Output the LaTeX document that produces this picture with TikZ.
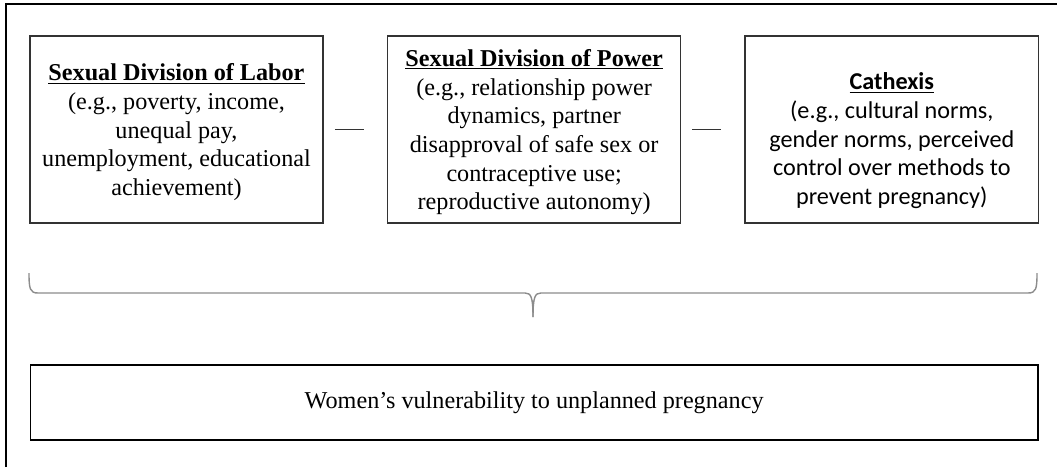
\documentclass[tikz,border=0pt]{standalone}
\usepackage{fontspec}
\setmainfont{Liberation Serif}
\newfontfamily\calibrifont{Carlito}
\usetikzlibrary{positioning}

\begin{document}
\begin{tikzpicture}[
    x=0.025cm, y=-0.025cm,
    node distance=1.575cm,
    every node/.style={font=\fontsize{17.2}{20.4}\selectfont, align=center},
    factor/.style={draw=black!80, line width=1.1pt, minimum width=7.325cm, minimum height=4.675cm, inner sep=0pt},
    outcome/.style={draw=black, line width=1.3pt, minimum width=25.175cm, minimum height=1.875cm},
    link/.style={draw=black!80, line width=0.8pt, shorten <=0.275cm, shorten >=0.575cm},
    brace/.style={draw=black!45, line width=1pt}
]
\useasboundingbox (0,0) rectangle (1057,467);

% --- Frame ---
\draw[line width=1.5pt] (6,467) -- (6,4) -- (1057,4);

% --- Nodes ---
\node[factor] (labor) at (176.5,129.5)
    {\rule{0pt}{16pt}\underline{\textbf{Sexual Division of Labor}}\\(e.g., poverty, income,\\unequal pay,\\unemployment, educational\\achievement)};
\node[factor, right=of labor] (power)
    {\rule{0pt}{16pt}\underline{\textbf{Sexual Division of Power}}\\(e.g., relationship power\\dynamics, partner\\disapproval of safe sex or\\contraceptive use;\\reproductive autonomy)};
\node[factor, right=of power, font=\calibrifont\fontsize{17.2}{20.4}\selectfont] (cathexis)
    {\rule{0pt}{28pt}\underline{\textbf{Cathexis}}\\(e.g., cultural norms,\\gender norms, perceived\\control over methods to\\prevent pregnancy)};
\node[outcome, below=3.5cm of power] (vuln) {Women’s vulnerability to unplanned pregnancy};

% --- Links ---
\draw[link] (labor) -- (power);
\draw[link] (power) -- (cathexis);

% --- Brace ---
\draw[brace] (29,273) .. controls (29,289) and (30,293) .. (38,293) -- (525,293)
    .. controls (531,293) and (533,297) .. (533,317);
\draw[brace] (1037,273) .. controls (1037,289) and (1036,293) .. (1028,293) -- (541,293)
    .. controls (535,293) and (533,297) .. (533,317);

\end{tikzpicture}
\end{document}
